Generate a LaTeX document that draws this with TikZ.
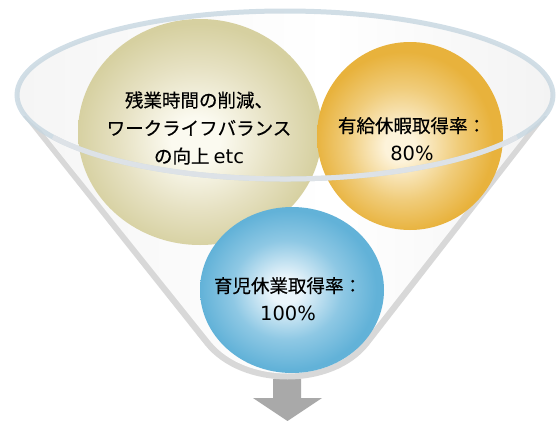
\documentclass[tikz,border=0pt]{standalone}
\usepackage{fontspec}
\newfontfamily\jpfont[FakeBold=0.4]{Noto Sans CJK JP}
\newfontfamily\latinfont{DejaVu Sans}
\definecolor{beigeE}{HTML}{D6D0A0}
\definecolor{beigeM}{HTML}{E6E1C2}
\definecolor{beigeC}{HTML}{FBFAF0}
\definecolor{orangeE}{HTML}{E8B23C}
\definecolor{orangeM}{HTML}{F0CC7A}
\definecolor{orangeC}{HTML}{FDF3DA}
\definecolor{blueE}{HTML}{62B2D8}
\definecolor{blueM}{HTML}{8EC8E4}
\definecolor{blueC}{HTML}{EAF5FB}
\definecolor{rimC}{HTML}{C6D6E0}
\definecolor{rimTop}{HTML}{DDE2E7}
\definecolor{coneDark}{HTML}{D8D8D8}
\definecolor{coneL}{HTML}{E6E6E6}
\definecolor{coneR}{HTML}{EAEAEA}
\definecolor{arrowC}{HTML}{A9A9A9}
\pgfdeclareradialshading{beigeball}{\pgfpoint{-1bp}{-2bp}}{color(0bp)=(beigeC); color(5bp)=(beigeC); color(16bp)=(beigeM); color(25bp)=(beigeE); color(50bp)=(beigeE)}
\pgfdeclareradialshading{orangeball}{\pgfpoint{-3bp}{-3bp}}{color(0bp)=(orangeC); color(4bp)=(orangeC); color(15bp)=(orangeM); color(24bp)=(orangeE); color(50bp)=(orangeE)}
\pgfdeclareradialshading{blueball}{\pgfpoint{-2bp}{0bp}}{color(0bp)=(blueC); color(4bp)=(blueC); color(15bp)=(blueM); color(24bp)=(blueE); color(50bp)=(blueE)}
\pgfdeclarehorizontalshading{conefill}{100bp}{color(0bp)=(coneL); color(50bp)=(white); color(75bp)=(coneR); color(100bp)=(coneR)}
\tikzset{
  balltext/.style={font=\jpfont\fontsize{18.5}{28}\selectfont, align=center, text=black},
}
\newcommand{\lat}[1]{{\latinfont\fontsize{19.5}{28}\selectfont #1}}
\begin{document}
\begin{tikzpicture}[x=1pt,y=-1pt]
\useasboundingbox (0,0) rectangle (558,421);
% arrow
\fill[arrowC] (273,379) -- (301,379) -- (301,398) -- (322,398) -- (287.5,421) -- (253,398) -- (273,398) -- cycle;
% cone outer band
\fill[coneDark] (23,116) -- (205,345) .. controls (242,391) and (333,391) .. (369,345) -- (547,116) -- cycle;
% cone inner area
\begin{scope}
  \clip (30,116) -- (211,342) .. controls (246,384) and (329,384) .. (363,342) -- (540,116) -- cycle;
  \shade[shading=conefill] (-60,0) rectangle (720,421);
\end{scope}
\begin{scope}
  \clip (285,95) ellipse[x radius=268, y radius=84];
  \shade[shading=conefill] (-60,0) rectangle (720,421);
\end{scope}
% balls
\shade[shading=beigeball] (200,132) ellipse[x radius=122, y radius=113];
\shade[shading=orangeball] (410,136) ellipse[x radius=93, y radius=94];
\shade[shading=blueball] (292,290) ellipse[x radius=92, y radius=83];
% rim
\draw[rimC, line width=5pt, opacity=0.8] (285,95) ellipse[x radius=268, y radius=84];
\draw[rimTop, line width=5pt] (285,95) ++(150:268 and 84) arc[start angle=150, end angle=30, x radius=268, y radius=84];
% texts
\node[balltext] (t1) at (199,128) {残業時間の削減、\\ワークライフバランス\\の向上 \lat{etc}};
\node[balltext] (t2) at (412,139) {有給休暇取得率：\\\lat{80\%}};
\node[balltext] (t3) at (288,299) {育児休業取得率：\\\lat{100\%}};
\end{tikzpicture}
\end{document}
